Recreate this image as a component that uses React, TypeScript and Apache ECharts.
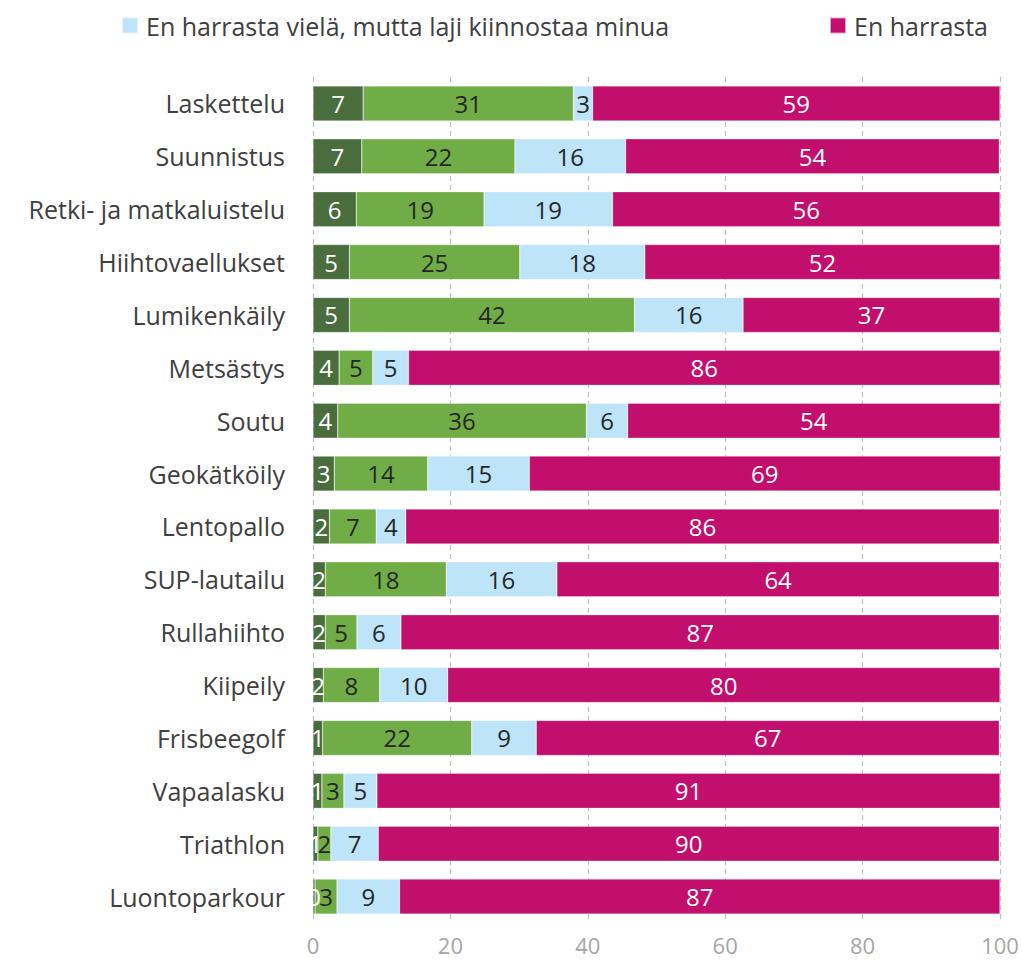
import React, { useEffect, useRef } from "react";
import * as echarts from "echarts";

const categories = [
  "Laskettelu", "Suunnistus", "Retki- ja matkaluistelu", "Hiihtovaellukset",
  "Lumikenkäily", "Metsästys", "Soutu", "Geokätköily", "Lentopallo",
  "SUP-lautailu", "Rullahiihto", "Kiipeily", "Frisbeegolf", "Vapaalasku",
  "Triathlon", "Luontoparkour",
];

const seriesNames = [
  "Harrastan säännöllisesti",
  "Harrastan satunnaisesti",
  "En harrasta vielä, mutta laji kiinnostaa minua",
  "En harrasta",
];

const regular = [7.3, 7.1, 6.3, 5.3, 5.3, 3.8, 3.6, 3.1, 2.4, 1.8, 1.8, 1.5, 1.4, 1.3, 0.7, 0.3];
const occasional = [30.6, 22.3, 18.6, 24.8, 41.5, 4.9, 36.2, 13.6, 6.8, 17.6, 4.6, 8.2, 21.7, 3.2, 1.9, 3.2];
const interested = [2.8, 16.1, 18.7, 18.2, 15.8, 5.2, 6.0, 14.8, 4.3, 16.1, 6.4, 9.9, 9.4, 4.8, 6.9, 9.1];
const notAtAll = [59.3, 54.4, 56.4, 51.7, 37.4, 86.1, 54.2, 68.6, 86.4, 64.4, 87.1, 80.4, 67.4, 90.7, 90.4, 87.4];

const xTicks = { min: 0, max: 100, interval: 20 };

const colors = ["#4a6d3d", "#70ad47", "#bde4f9", "#c20e6c"];
const labelColors = ["#ffffff", "#262626", "#262626", "#ffffff"];
const FONT = "Open Sans";

export default function App() {
  const ref = useRef<HTMLDivElement>(null);
  useEffect(() => {
    if (!ref.current) return;
    const chart = echarts.init(ref.current, null, { renderer: "svg" });
    const data = [regular, occasional, interested, notAtAll];
    const legendText = { fontSize: 25, color: "#404040", fontFamily: FONT, padding: [0, 0, 0, 3] };
    chart.setOption({
      animation: false,
      textStyle: { fontFamily: FONT },
      legend: [
        {
          data: [seriesNames[2]],
          left: 116,
          top: 8,
          itemWidth: 16,
          itemHeight: 16,
          icon: "rect",
          textStyle: legendText,
        },
        {
          data: [seriesNames[3]],
          left: 824,
          top: 8,
          itemWidth: 16,
          itemHeight: 16,
          icon: "rect",
          textStyle: legendText,
        },
      ],
      grid: { left: 313, right: 22, top: 77, bottom: 44, containLabel: false },
      xAxis: {
        type: "value",
        min: xTicks.min,
        max: xTicks.max,
        interval: xTicks.interval,
        axisLine: { show: false },
        axisTick: { show: false },
        axisLabel: { color: "#a6a6a6", fontSize: 22, margin: 11, fontFamily: FONT },
        splitLine: { show: true, lineStyle: { color: "#bfbfbf", type: [5, 4], width: 1.2 } },
      },
      yAxis: {
        type: "category",
        data: categories,
        inverse: true,
        axisLine: { show: false },
        axisTick: { show: false },
        axisLabel: { color: "#404040", fontSize: 25, margin: 28, fontFamily: FONT },
      },
      series: data.map((vals, i) => ({
        name: seriesNames[i],
        type: "bar",
        stack: "total",
        data: vals,
        barWidth: 35,
        itemStyle: { color: colors[i], borderColor: "rgba(255,255,255,0.6)", borderWidth: 0.5 },
        label: {
          show: true,
          position: "inside",
          color: labelColors[i],
          fontSize: 24,
          fontFamily: FONT,
          formatter: (p: any) => String(Math.round(p.value)),
        },
      })),
    });
    return () => chart.dispose();
  }, []);
  return (
    <div
      ref={ref}
      style={{ position: "absolute", left: 0, top: 0, width: 1022, height: 967, background: "#fff" }}
    />
  );
}
